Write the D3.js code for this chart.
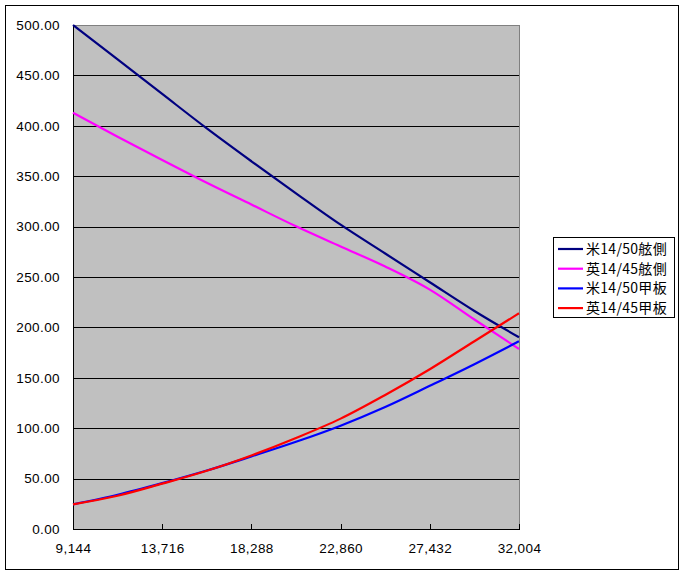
<!DOCTYPE html>
<html><head><meta charset="utf-8">
<script src="https://cdn.jsdelivr.net/npm/d3@7"></script>
<style>
body{margin:0;background:#fff;}
svg{display:block;}
text{font-family:Arial,"Liberation Sans",sans-serif;fill:#000;}
.leg text{font-family:"Noto Sans CJK JP",sans-serif;}
</style></head>
<body><svg id="c" width="685" height="576"></svg>
<script>
const distances = [9144, 11430, 13716, 16002, 18288, 20574, 22860, 25146, 27432, 29718, 32004];
const xTickValues = [9144, 13716, 18288, 22860, 27432, 32004];
const yTickValues = [0, 50, 100, 150, 200, 250, 300, 350, 400, 450, 500];
const seriesNames = ["米14/50舷側", "英14/45舷側", "米14/50甲板", "英14/45甲板"];
const seriesColors = ["#000080", "#FF00FF", "#0000FF", "#FF0000"];
const us50Belt   = [500, 465.9, 431.6, 397.4, 364.8, 333.0, 301.9, 273.3, 244.8, 216.3, 190.2];
const uk45Belt   = [413, 389.2, 366.1, 343.5, 321.9, 300.3, 280.3, 260.4, 237.5, 207.8, 178.6];
const us50Deck   = [24.5, 34, 45.5, 58, 72, 86.5, 102.5, 121, 142, 163.5, 186.2];
const uk45Deck   = [24.5, 33, 45, 57.8, 73, 90.3, 109.5, 133, 158.5, 186.3, 214];
const seriesValues = [us50Belt, uk45Belt, us50Deck, uk45Deck];

const svg = d3.select("#c");
const L = 73, R = 519, T = 25, B = 529;
const x = d3.scaleLinear().domain([9144, 32004]).range([L, R]);
const y = d3.scaleLinear().domain([0, 500]).range([B, T]);

svg.append("rect").attr("x",5.5).attr("y",5.5).attr("width",673).attr("height",564)
  .attr("fill","#fff").attr("stroke","#000").attr("stroke-width",1);

svg.append("rect").attr("x",L).attr("y",T).attr("width",R-L).attr("height",B-T)
  .attr("fill","#C0C0C0").attr("stroke","#808080").attr("stroke-width",1).attr("shape-rendering","crispEdges");

svg.append("g").selectAll("line").data(yTickValues.filter(v=>v>0 && v<500)).join("line")
  .attr("x1",L).attr("x2",R).attr("y1",d=>Math.round(y(d))+0.5).attr("y2",d=>Math.round(y(d))+0.5)
  .attr("stroke","#000").attr("stroke-width",1).attr("shape-rendering","crispEdges");

const yAxis = d3.axisLeft(y).tickValues(yTickValues).tickFormat(d3.format(".2f")).tickSize(0).tickPadding(13);
const gy = svg.append("g").attr("transform",`translate(${L},0)`).call(yAxis);
gy.select(".domain").attr("stroke","#000").attr("shape-rendering","crispEdges");
gy.selectAll("text").attr("font-size","13.5px").attr("letter-spacing","0.4px")
  .attr("font-family","Arial, 'Liberation Sans', sans-serif");

const xAxis = d3.axisBottom(x).tickValues(xTickValues).tickFormat(d3.format(",")).tickSizeInner(-5).tickSizeOuter(0).tickPadding(14);
const gx = svg.append("g").attr("transform",`translate(0,${B})`).call(xAxis);
gx.select(".domain").attr("stroke","#000").attr("shape-rendering","crispEdges");
gx.selectAll(".tick line").attr("stroke","#000").attr("shape-rendering","crispEdges");
gx.selectAll("text").attr("font-size","13.5px").attr("letter-spacing","0.4px")
  .attr("font-family","Arial, 'Liberation Sans', sans-serif");

const line = d3.line().x((d,i)=>x(distances[i])).y(d=>y(d)).curve(d3.curveMonotoneX);
svg.append("g").selectAll("path").data(seriesValues).join("path")
  .attr("d",d=>line(d)).attr("fill","none")
  .attr("stroke",(d,i)=>seriesColors[i]).attr("stroke-width",2.2);

const leg = svg.append("g").attr("class","leg");
leg.append("rect").attr("x",553.5).attr("y",237.5).attr("width",121).attr("height",80)
  .attr("fill","#fff").attr("stroke","#000").attr("stroke-width",1);
seriesNames.forEach((n,i)=>{
  const yy = 249 + i*19.7;
  leg.append("line").attr("x1",558).attr("x2",583).attr("y1",yy).attr("y2",yy)
    .attr("stroke",seriesColors[i]).attr("stroke-width",2.2);
  leg.append("text").attr("x",586).attr("y",yy).attr("dy","0.36em")
    .attr("font-size","14px").attr("letter-spacing","0.3px").text(n);
});
</script></body></html>
